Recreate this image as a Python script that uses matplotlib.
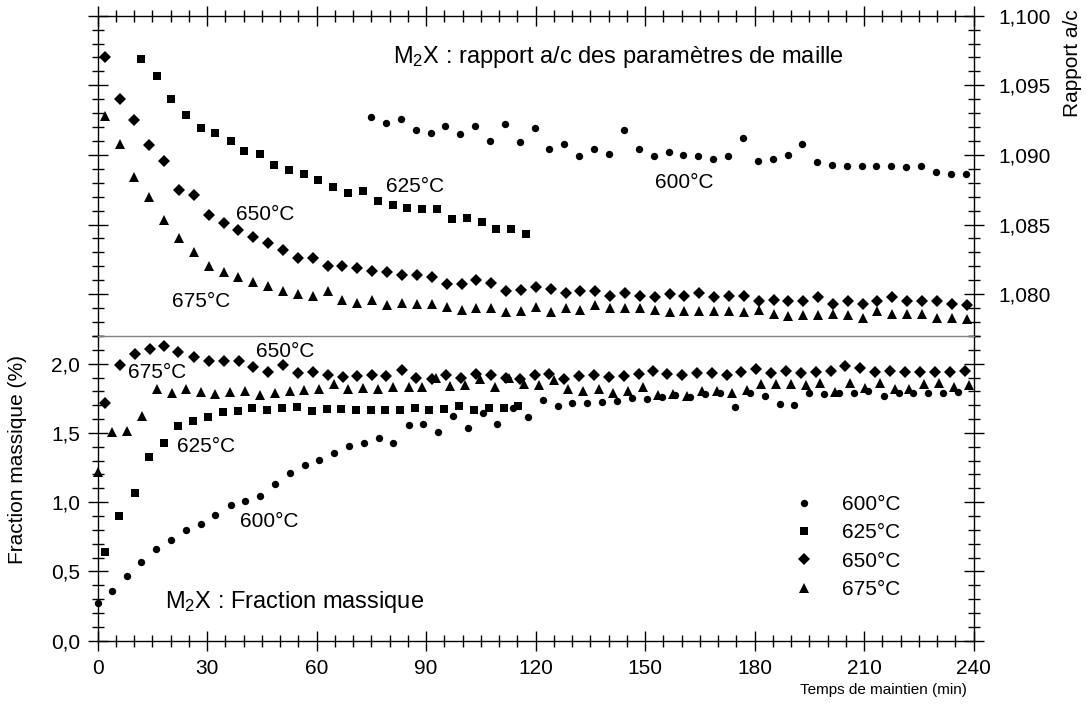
import matplotlib
matplotlib.use("Agg")
import matplotlib.pyplot as plt
from matplotlib.ticker import MultipleLocator, FuncFormatter
from matplotlib.lines import Line2D

plt.rcParams["font.family"] = ["Liberation Sans", "DejaVu Sans"]
plt.rcParams["mathtext.fontset"] = "custom"
plt.rcParams["mathtext.rm"] = "Liberation Sans"
plt.rcParams["mathtext.default"] = "regular"

# --- rapport a/c (top panel) ---
t_ac_600 = [74.9, 79.0, 83.2, 87.3, 91.3, 95.3, 99.3, 103.4, 107.5, 111.6, 115.6,
            119.9, 123.8, 127.9, 132.0, 136.0, 140.1, 144.2, 148.4, 152.3, 156.4,
            160.5, 164.4, 168.5, 172.6, 176.7, 180.8, 184.9, 189.0, 192.9, 197.0,
            201.1, 205.3, 209.4, 213.3, 217.4, 221.5, 225.5, 229.6, 233.8, 237.9]
ac_600 = [1.0927, 1.0923, 1.0926, 1.0918, 1.0916, 1.0921, 1.0915, 1.0921, 1.0910,
          1.0922, 1.0909, 1.0919, 1.0904, 1.0908, 1.0899, 1.0904, 1.0901, 1.0918,
          1.0904, 1.0899, 1.0902, 1.0900, 1.0899, 1.0897, 1.0899, 1.0912, 1.0896,
          1.0897, 1.0900, 1.0908, 1.0895, 1.0893, 1.0892, 1.0892, 1.0892, 1.0892,
          1.0891, 1.0892, 1.0888, 1.0886, 1.0886]

t_ac_625 = [11.9, 16.2, 20.0, 24.2, 28.3, 32.3, 36.5, 40.1, 44.5, 48.4, 52.5, 56.6,
            60.5, 64.6, 68.5, 72.7, 76.8, 80.8, 84.9, 88.8, 92.9, 97.0, 101.2,
            105.3, 109.2, 113.3, 117.4]
ac_625 = [1.0969, 1.0957, 1.0940, 1.0929, 1.0919, 1.0916, 1.0910, 1.0903, 1.0901,
          1.0893, 1.0889, 1.0886, 1.0882, 1.0877, 1.0873, 1.0874, 1.0867, 1.0864,
          1.0862, 1.0861, 1.0861, 1.0854, 1.0855, 1.0852, 1.0847, 1.0847, 1.0843]

t_ac_hi = [2.0, 6.1, 10.1, 14.2, 18.3, 22.4, 26.4, 30.5, 34.6, 38.6, 42.7, 46.8,
           50.8, 54.9, 59.0, 63.1, 67.1, 71.2, 75.3, 79.3, 83.4, 87.5, 91.5, 95.6,
           99.7, 103.8, 107.8, 111.9, 116.0, 120.0, 124.1, 128.2, 132.2, 136.3,
           140.4, 144.5, 148.5, 152.6, 156.7, 160.7, 164.8, 168.9, 172.9, 177.0,
           181.1, 185.2, 189.2, 193.3, 197.4, 201.4, 205.5, 209.6, 213.6, 217.7,
           221.8, 225.9, 229.9, 234.0, 238.1]
ac_650 = [1.0970, 1.0940, 1.0925, 1.0907, 1.0896, 1.0875, 1.0871, 1.0857, 1.0851,
          1.0846, 1.0841, 1.0837, 1.0832, 1.0826, 1.0826, 1.0820, 1.0820, 1.0819,
          1.0817, 1.0816, 1.0814, 1.0814, 1.0812, 1.0807, 1.0807, 1.0810, 1.0808,
          1.0802, 1.0803, 1.0805, 1.0804, 1.0801, 1.0802, 1.0802, 1.0799, 1.0801,
          1.0799, 1.0798, 1.0800, 1.0799, 1.0801, 1.0798, 1.0799, 1.0799, 1.0795,
          1.0796, 1.0795, 1.0795, 1.0798, 1.0793, 1.0795, 1.0793, 1.0795, 1.0798,
          1.0795, 1.0795, 1.0795, 1.0793, 1.0792]
ac_675 = [1.0928, 1.0908, 1.0884, 1.0870, 1.0853, 1.0840, 1.0830, 1.0820, 1.0816,
          1.0812, 1.0809, 1.0806, 1.0802, 1.0800, 1.0799, 1.0802, 1.0796, 1.0794,
          1.0796, 1.0792, 1.0794, 1.0793, 1.0793, 1.0791, 1.0789, 1.0790, 1.0790,
          1.0787, 1.0788, 1.0791, 1.0787, 1.0790, 1.0789, 1.0792, 1.0790, 1.0790,
          1.0790, 1.0789, 1.0787, 1.0788, 1.0788, 1.0788, 1.0788, 1.0787, 1.0789,
          1.0786, 1.0784, 1.0785, 1.0785, 1.0786, 1.0785, 1.0783, 1.0788, 1.0786,
          1.0786, 1.0786, 1.0783, 1.0783, 1.0782]

# --- fraction massique (bottom panel) ---
t_fm_600 = [0.1, 4.0, 8.0, 12.0, 16.1, 20.1, 24.2, 28.3, 32.3, 36.5, 40.3, 44.5,
            48.7, 52.6, 56.7, 60.6, 64.8, 69.0, 72.9, 77.0, 81.0, 85.2, 89.1, 93.3,
            97.3, 101.4, 105.5, 109.5, 113.7, 117.8, 121.9, 126.0, 129.9, 134.0,
            138.1, 142.2, 146.3, 150.5, 154.6, 158.2, 162.3, 166.4, 170.5, 174.7,
            178.8, 182.9, 187.0, 190.9, 195.0, 199.0, 203.2, 207.1, 211.0, 215.3,
            219.4, 223.5, 227.6, 231.6, 235.6]
fm_600 = [0.269, 0.357, 0.465, 0.568, 0.659, 0.724, 0.796, 0.844, 0.904, 0.981,
          1.012, 1.048, 1.132, 1.209, 1.269, 1.307, 1.355, 1.408, 1.424, 1.463,
          1.427, 1.559, 1.566, 1.507, 1.620, 1.532, 1.642, 1.566, 1.683, 1.616,
          1.739, 1.694, 1.719, 1.719, 1.724, 1.729, 1.750, 1.744, 1.763, 1.774,
          1.760, 1.780, 1.785, 1.687, 1.791, 1.768, 1.708, 1.701, 1.787, 1.780,
          1.791, 1.791, 1.804, 1.768, 1.787, 1.785, 1.787, 1.791, 1.796]

t_fm_625 = [2.1, 6.0, 10.3, 14.1, 18.2, 22.1, 26.2, 30.2, 34.3, 38.4, 42.4, 46.5,
            50.5, 54.6, 58.8, 62.8, 66.7, 70.7, 74.8, 78.8, 82.8, 86.9, 90.9, 94.8,
            99.0, 103.1, 107.3, 111.4, 115.3]
fm_625 = [0.640, 0.899, 1.065, 1.326, 1.427, 1.552, 1.583, 1.617, 1.648, 1.660,
          1.683, 1.665, 1.679, 1.688, 1.660, 1.676, 1.676, 1.669, 1.669, 1.669,
          1.669, 1.679, 1.669, 1.676, 1.693, 1.669, 1.683, 1.683, 1.696]

t_fm_650 = [2.1, 6.2, 10.3, 14.4, 18.2, 22.1, 26.4, 30.5, 34.7, 38.8, 42.7, 46.8,
            50.7, 54.8, 59.0, 63.0, 67.2, 71.2, 75.3, 79.1, 83.3, 87.3, 91.6, 95.5,
            99.6, 103.7, 107.8, 111.9, 115.8, 119.9, 123.8, 127.9, 131.9, 136.0,
            140.0, 144.1, 148.2, 152.1, 156.1, 160.0, 164.2, 168.3, 172.4, 176.3,
            180.4, 184.5, 188.6, 192.7, 196.8, 200.9, 204.8, 208.9, 213.0, 217.1,
            221.2, 225.3, 229.4, 233.6, 237.5]
fm_650 = [1.719, 1.991, 2.072, 2.104, 2.127, 2.086, 2.050, 2.019, 2.019, 2.019,
          1.976, 1.942, 1.991, 1.931, 1.942, 1.916, 1.906, 1.911, 1.916, 1.908,
          1.955, 1.899, 1.892, 1.916, 1.899, 1.924, 1.916, 1.899, 1.888, 1.916,
          1.924, 1.888, 1.911, 1.916, 1.906, 1.911, 1.924, 1.948, 1.924, 1.916,
          1.935, 1.935, 1.916, 1.940, 1.960, 1.930, 1.948, 1.930, 1.940, 1.948,
          1.983, 1.967, 1.940, 1.948, 1.940, 1.940, 1.940, 1.940, 1.948]

t_fm_675 = [0.2, 3.9, 8.0, 12.1, 16.2, 20.3, 24.2, 28.4, 32.2, 36.3, 40.4, 44.5,
            48.6, 52.6, 56.6, 60.7, 64.8, 68.7, 72.8, 76.8, 81.0, 85.2, 88.8, 92.7,
            96.6, 100.7, 104.8, 108.9, 112.7, 116.8, 121.0, 124.9, 129.0, 133.1,
            137.4, 141.3, 145.4, 149.4, 153.5, 157.6, 161.6, 165.7, 169.6, 173.8,
            177.9, 181.8, 185.9, 190.0, 194.1, 198.0, 202.0, 206.2, 210.3, 214.2,
            218.3, 222.3, 226.4, 230.5, 234.5, 238.6]
fm_675 = [1.216, 1.504, 1.511, 1.624, 1.816, 1.791, 1.816, 1.799, 1.784, 1.799,
          1.804, 1.775, 1.791, 1.804, 1.809, 1.816, 1.856, 1.816, 1.827, 1.816,
          1.835, 1.835, 1.835, 1.895, 1.840, 1.844, 1.888, 1.832, 1.895, 1.856,
          1.848, 1.885, 1.816, 1.800, 1.818, 1.790, 1.806, 1.833, 1.772, 1.782,
          1.770, 1.802, 1.802, 1.791, 1.810, 1.852, 1.852, 1.852, 1.844, 1.863,
          1.794, 1.862, 1.824, 1.862, 1.814, 1.814, 1.852, 1.862, 1.833, 1.846]

temps_labels = ["600°C", "625°C", "650°C", "675°C"]
markers = {"600°C": ("o", 5.3), "625°C": ("s", 6.0), "650°C": ("D", 6.2), "675°C": ("^", 7.2)}

FS = 15


def comma(fmt):
    return FuncFormatter(lambda v, pos: format(v, fmt).replace(".", ","))


def scatter(ax, t, v, label):
    m, ms = markers[label]
    ax.plot(t, v, linestyle="none", marker=m, markersize=ms, color="black",
            markeredgewidth=0, clip_on=False, zorder=3)


fig = plt.figure(figsize=(10.87, 7.10), dpi=100)
ax_top = fig.add_axes([0.0897, 0.5268, 0.8061, 0.4511])
ax_bot = fig.add_axes([0.0897, 0.0976, 0.8061, 0.4292])

scatter(ax_top, t_ac_600, ac_600, "600°C")
scatter(ax_top, t_ac_625, ac_625, "625°C")
scatter(ax_top, t_ac_hi, ac_650, "650°C")
scatter(ax_top, t_ac_hi, ac_675, "675°C")

scatter(ax_bot, t_fm_600, fm_600, "600°C")
scatter(ax_bot, t_fm_625, fm_625, "625°C")
scatter(ax_bot, t_fm_650, fm_650, "650°C")
scatter(ax_bot, t_fm_675, fm_675, "675°C")

for ax in (ax_top, ax_bot):
    ax.set_xlim(0, 240)
    ax.xaxis.set_major_locator(MultipleLocator(30))
    ax.xaxis.set_minor_locator(MultipleLocator(5))
    ax.tick_params(which="major", direction="inout", length=15, width=1, labelsize=FS)
    ax.tick_params(which="minor", direction="inout", length=8.5, width=1)
    for s in ax.spines.values():
        s.set_linewidth(1)

# top panel: a/c ratio, labelled on the right
ax_top.set_ylim(1.077, 1.100)
ax_top.yaxis.set_major_locator(MultipleLocator(0.005))
ax_top.yaxis.set_minor_locator(MultipleLocator(0.001))
ax_top.yaxis.set_major_formatter(comma(".3f"))
ax_top.tick_params(axis="x", which="both", top=True, bottom=False,
                   labeltop=False, labelbottom=False)
ax_top.tick_params(axis="y", which="both", left=True, right=True,
                   labelleft=False, labelright=True, pad=10)
ax_top.spines["bottom"].set_visible(False)

# bottom panel: mass fraction
ax_bot.set_ylim(0, 2.2)
ax_bot.yaxis.set_major_locator(MultipleLocator(0.5))
ax_bot.yaxis.set_minor_locator(MultipleLocator(0.1))
ax_bot.yaxis.set_major_formatter(comma(".1f"))
ax_bot.tick_params(axis="x", which="both", top=False, bottom=True, pad=6)
ax_bot.tick_params(axis="y", which="both", left=True, right=True,
                   labelleft=True, labelright=False, pad=5)
ax_bot.spines["top"].set_color("#808080")

# annotations
ax_top.text(81, 1.0970, "M$_2$X : rapport a/c des paramètres de maille",
            fontsize=17, va="center", ha="left")
ax_top.text(79, 1.0877, "625°C", fontsize=FS, va="center")
ax_top.text(38, 1.0857, "650°C", fontsize=FS, va="center")
ax_top.text(20.4, 1.0795, "675°C", fontsize=FS, va="center")
ax_top.text(152.7, 1.0880, "600°C", fontsize=FS, va="center")

ax_bot.text(43.4, 2.091, "650°C", fontsize=FS, va="center")
ax_bot.text(8.4, 1.933, "675°C", fontsize=FS, va="center")
ax_bot.text(21.8, 1.401, "625°C", fontsize=FS, va="center")
ax_bot.text(39.0, 0.861, "600°C", fontsize=FS, va="center")
ax_bot.text(18.5, 0.280, "M$_2$X : Fraction massique", fontsize=17, va="center")

fig.text(1073 / 1087, 1 - 63 / 710, "Rapport a/c", rotation=90,
         fontsize=FS, ha="center", va="center")
fig.text(18 / 1087, 1 - 460 / 710, "Fraction massique (%)", rotation=90,
         fontsize=FS, ha="center", va="center")
fig.text(967 / 1087, 1 - 690 / 710, "Temps de maintien (min)",
         fontsize=11, ha="right", va="center")

handles = [Line2D([], [], linestyle="none", marker=markers[k][0],
                  markersize=markers[k][1], color="black", markeredgewidth=0)
           for k in temps_labels]
ax_bot.legend(handles, temps_labels, loc="center", frameon=False, fontsize=FS,
              bbox_to_anchor=(847 / 1087, 1 - 547 / 710),
              bbox_transform=fig.transFigure, handlelength=1.0,
              handletextpad=1.3, labelspacing=0.45)

fig.savefig("out.png", dpi=100)
